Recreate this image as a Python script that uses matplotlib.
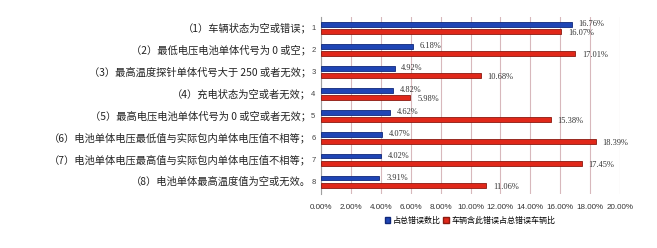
import matplotlib
matplotlib.use("Agg")
import matplotlib.pyplot as plt
import numpy as np
from matplotlib.patches import Patch

plt.rcParams['font.family'] = ['Noto Sans CJK SC', 'DejaVu Sans']

categories = ["（1）车辆状态为空或错误；",
              "（2）最低电压电池单体代号为 0 或空；",
              "（3）最高温度探针单体代号大于 250 或者无效；",
              "（4）充电状态为空或者无效；",
              "（5）最高电压电池单体代号为 0 或空或者无效；",
              "（6）电池单体电压最低值与实际包内单体电压值不相等；",
              "（7）电池单体电压最高值与实际包内单体电压值不相等；",
              "（8）电池单体最高温度值为空或无效。"]
row_ids = ["1", "2", "3", "4", "5", "6", "7", "8"]
err_share = [16.76, 6.18, 4.92, 4.82, 4.62, 4.07, 4.02, 3.91]
veh_share = [16.07, 17.01, 10.68, 5.98, 15.38, 18.39, 17.45, 11.06]
series_names = ["占总错误数比", "车辆含此错误占总错误车辆比"]
xticks = [0, 2, 4, 6, 8, 10, 12, 14, 16, 18, 20]

blue = "#1f45b5"
red = "#e0281a"

fig = plt.figure(figsize=(6.57, 2.48), dpi=100)
ax = fig.add_axes([321/657, 1-194/248, (620-321)/657, (194-17)/248])

y = np.arange(1, len(categories) + 1)
h = 0.2
off = 0.165
ax.barh(y - off, err_share, height=h, color=blue, edgecolor="#10287a", linewidth=0.6, zorder=3)
ax.barh(y + off, veh_share, height=h, color=red, edgecolor="#8a1a10", linewidth=0.6, zorder=3)

for yi, v in zip(y, err_share):
    ax.text(v + 0.45, yi - off - 0.03, f"{v:.2f}%", va="center", ha="left", fontsize=6,
            family="Liberation Serif", color="#333333")
for yi, v in zip(y, veh_share):
    ax.text(v + 0.45, yi + off + 0.05, f"{v:.2f}%", va="center", ha="left", fontsize=6,
            family="Liberation Serif", color="#333333")

ax.set_xlim(0, 20)
ax.set_ylim(8.55, 0.5)
ax.set_xticks(xticks)
ax.set_xticklabels([f"{t:.2f}%" for t in xticks], fontsize=5.8, family="Liberation Sans", color="#333333")
ax.set_yticks(y)
ax.set_yticklabels(row_ids, fontsize=5.5, family="Liberation Sans", color="#444444")
ax.tick_params(axis="y", length=0, pad=4)
ax.tick_params(axis="x", length=0, pad=7)
ax.grid(axis="x", color="#d8b8bc", linewidth=0.8, zorder=0)
for s in ["top", "right", "bottom"]:
    ax.spines[s].set_visible(False)
ax.spines["left"].set_color("#a0a0a0")
ax.spines["left"].set_linewidth(0.8)

for yi, c in zip(y, categories):
    ax.text(-0.65, yi, c, ha="right", va="center", fontsize=7.4, color="#222222", clip_on=False)

handles = [Patch(facecolor=blue, edgecolor="#10287a"), Patch(facecolor=red, edgecolor="#8a1a10")]
fig.legend(handles, series_names, loc="center", bbox_to_anchor=(470/657, 1-220/248), ncol=2,
           frameon=False, fontsize=5.8, handlelength=0.7, handleheight=0.7, handletextpad=0.3,
           columnspacing=0.3)

fig.savefig("out.png", dpi=100)
